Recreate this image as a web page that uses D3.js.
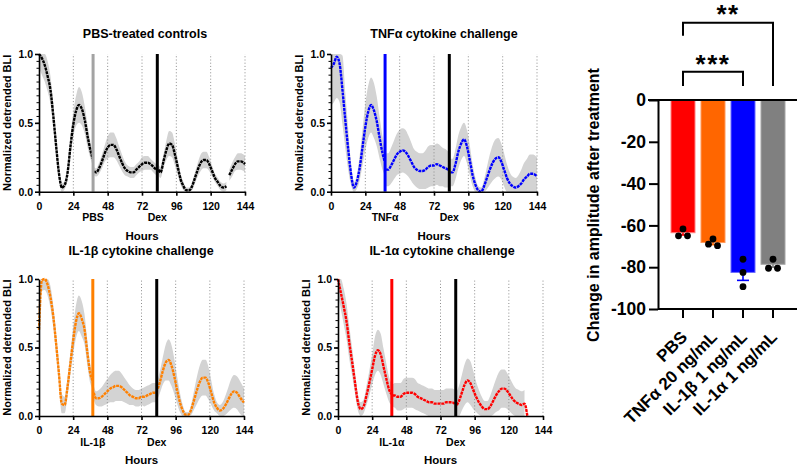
<!DOCTYPE html>
<html lang="en">
<head>
<meta charset="UTF-8">
<title>Cytokine challenge and amplitude change</title>
<script src="https://d3js.org/d3.v7.min.js"></script>
<style>
  body { margin: 0; background: #fff; }
  svg { font-family: "Liberation Sans", Arial, sans-serif; font-weight: bold; }
</style>
</head>
<body>
<svg width="800" height="467"></svg>
<script>
// ---- time series data (hours after start, normalized detrended BLI) ----
const hoursSeg1 = [0,2,4,6,8,10,12,14,16,18,20,22,24,26,28,30,32,34,36,37.5];
const hoursSeg2 = [38.5,40,42,44,46,48,50,52,54,56,58,60,62,64,66,68,70,72,74,76,78,80,82];
const hoursSeg3 = [83.5,85,87,89,91,93,95,97,99,101,103,105,107,109,111,113,115,117,119,121,123,125,127,129,131,133,135,137,139,141,143,144];
const hours = hoursSeg1.concat(hoursSeg2, hoursSeg3);

const pbsMean = [1.0,0.97,0.92,0.84,0.74,0.55,0.33,0.13,0.03,0.05,0.14,0.33,0.49,0.59,0.63,0.6,0.52,0.4,0.3,0.24,
  0.15,0.14,0.17,0.22,0.28,0.32,0.34,0.34,0.31,0.26,0.21,0.17,0.15,0.14,0.14,0.16,0.18,0.2,0.21,0.21,0.2,0.18,0.16,
  0.16,0.14,0.22,0.3,0.35,0.34,0.27,0.18,0.09,0.04,0.01,0.01,0.04,0.1,0.16,0.21,0.23,0.23,0.2,0.15,0.1,0.07,0.04,0.03,0.04,0.12,0.16,0.2,0.22,0.22,0.21,0.2];
const pbsSd = [0.1,0.12,0.12,0.11,0.1,0.09,0.07,0.05,0.03,0.03,0.05,0.07,0.09,0.11,0.13,0.12,0.1,0.08,0.06,0.05,
  0.03,0.03,0.04,0.05,0.06,0.08,0.09,0.09,0.08,0.07,0.06,0.05,0.04,0.04,0.04,0.04,0.04,0.05,0.05,0.05,0.04,0.04,0.04,
  0.04,0.04,0.05,0.07,0.09,0.09,0.08,0.06,0.04,0.03,0.02,0.02,0.03,0.04,0.05,0.06,0.06,0.06,0.05,0.04,0.03,0.03,0.03,0.03,0.03,0.04,0.05,0.05,0.06,0.06,0.06,0.06];

const tnfMean = [0.9,0.93,0.98,0.93,0.74,0.52,0.31,0.13,0.03,0.07,0.17,0.32,0.47,0.58,0.63,0.59,0.51,0.39,0.28,0.22,
  0.16,0.16,0.19,0.23,0.27,0.29,0.3,0.29,0.26,0.22,0.18,0.16,0.15,0.15,0.16,0.18,0.19,0.19,0.2,0.19,0.18,0.17,0.16,
  0.14,0.14,0.2,0.29,0.35,0.38,0.33,0.23,0.12,0.05,0.01,0.0,0.04,0.1,0.16,0.21,0.24,0.25,0.22,0.16,0.1,0.06,0.04,0.03,0.04,0.06,0.09,0.11,0.13,0.13,0.12,0.11];
const tnfSd = [0.28,0.28,0.3,0.28,0.25,0.2,0.15,0.08,0.04,0.05,0.09,0.13,0.17,0.19,0.2,0.2,0.18,0.15,0.12,0.1,
  0.12,0.12,0.13,0.14,0.15,0.16,0.16,0.16,0.15,0.14,0.13,0.13,0.13,0.13,0.14,0.15,0.15,0.15,0.15,0.15,0.14,0.14,0.13,
  0.1,0.1,0.11,0.12,0.12,0.12,0.12,0.11,0.08,0.05,0.03,0.03,0.05,0.08,0.11,0.13,0.14,0.14,0.13,0.12,0.1,0.08,0.07,0.07,0.08,0.1,0.12,0.13,0.14,0.14,0.14,0.14];

const il1bMean = [0.63,0.99,1.0,0.96,0.87,0.73,0.53,0.31,0.09,0.08,0.21,0.38,0.55,0.69,0.75,0.71,0.63,0.46,0.31,0.26,
  0.17,0.13,0.13,0.14,0.16,0.18,0.2,0.21,0.22,0.22,0.21,0.19,0.17,0.15,0.14,0.13,0.13,0.14,0.14,0.15,0.16,0.17,0.17,
  0.2,0.25,0.33,0.39,0.41,0.37,0.29,0.19,0.1,0.04,0.01,0.01,0.05,0.12,0.19,0.25,0.28,0.28,0.24,0.17,0.1,0.06,0.04,0.05,0.08,0.12,0.16,0.18,0.17,0.14,0.11,0.1];
const il1bSd = [0.1,0.08,0.08,0.08,0.08,0.08,0.08,0.08,0.07,0.06,0.07,0.08,0.1,0.12,0.13,0.13,0.11,0.09,0.07,0.06,
  0.05,0.05,0.06,0.07,0.08,0.09,0.1,0.11,0.11,0.11,0.1,0.09,0.08,0.07,0.06,0.06,0.06,0.06,0.07,0.07,0.07,0.07,0.07,
  0.07,0.08,0.1,0.13,0.15,0.15,0.13,0.1,0.07,0.04,0.02,0.02,0.04,0.07,0.1,0.12,0.13,0.13,0.12,0.09,0.06,0.04,0.04,0.05,0.07,0.09,0.11,0.12,0.12,0.12,0.11,0.1];

const il1aMean = [1.0,0.9,0.8,0.69,0.53,0.39,0.24,0.1,0.05,0.07,0.15,0.24,0.34,0.44,0.48,0.45,0.36,0.27,0.19,0.16,
  0.15,0.15,0.14,0.14,0.16,0.17,0.17,0.17,0.16,0.14,0.13,0.12,0.11,0.1,0.1,0.09,0.09,0.09,0.09,0.1,0.1,0.1,0.09,
  0.08,0.11,0.17,0.23,0.26,0.24,0.19,0.14,0.1,0.07,0.05,0.05,0.07,0.11,0.15,0.18,0.2,0.2,0.18,0.15,0.12,0.1,0.09,0.08,0.09,0.0,null,null,null,null,null,null];
const il1aSd = [0.1,0.12,0.13,0.13,0.12,0.1,0.08,0.06,0.05,0.05,0.07,0.09,0.11,0.14,0.15,0.15,0.13,0.11,0.09,0.08,
  0.08,0.09,0.1,0.1,0.11,0.11,0.11,0.11,0.11,0.1,0.1,0.1,0.1,0.1,0.1,0.1,0.1,0.1,0.1,0.1,0.1,0.1,0.1,
  0.1,0.11,0.13,0.15,0.16,0.16,0.14,0.11,0.09,0.07,0.06,0.06,0.08,0.1,0.12,0.14,0.14,0.14,0.13,0.12,0.11,0.1,0.1,0.1,0.1,null,null,null,null,null,null,null];

const treatHour = 37.8;   // cytokine / PBS added
const dexHour = 82.7;     // dexamethasone resync
const pbsGapHour = 132;   // recording gap in PBS trace
const hourTicks = [0,24,48,72,96,120,144];
const bliTicks = [0,0.5,1.0];

const panelTitles = ["PBS-treated controls","TNFα cytokine challenge","IL-1β cytokine challenge","IL-1α cytokine challenge"];
const treatLabels = ["PBS","TNFα","IL-1β","IL-1α"];

// ---- bar chart data ----
const barGroups = ["PBS","TNFα 20 ng/mL","IL-1β 1 ng/mL","IL-1α 1 ng/mL"];
const barMeans = [-63.5,-68.2,-82.5,-78.6];
const barSem = [1.1,1.0,3.8,1.4];
const barDots = [[-65,-61.7,-65],[-66.5,-69.7,-69],[-76.2,-82.5,-89.3],[-80.5,-76.2,-80.5]];
const barTicks = [0,-20,-40,-60,-80,-100];
const sigStars = ["***","**"];

const svg = d3.select("svg");

const panels = [
  {mean: pbsMean, sd: pbsSd, color: "#000000", treatColor: "#a3a3a3", breaks: [treatHour, dexHour, pbsGapHour],
   l: 39, r: 245, t: 54, b: 191.7, titleX: 145, titleY: 38},
  {mean: tnfMean, sd: tnfSd, color: "#0000ff", treatColor: "#0000ff", breaks: [treatHour, dexHour],
   l: 331, r: 537, t: 54, b: 191.7, titleX: 444, titleY: 38},
  {mean: il1bMean, sd: il1bSd, color: "#ff8000", treatColor: "#ff8000", breaks: [treatHour, dexHour],
   l: 39, r: 244, t: 279, b: 416, titleX: 141, titleY: 255},
  {mean: il1aMean, sd: il1aSd, color: "#ff0000", treatColor: "#ff0000", breaks: [treatHour, dexHour],
   l: 338, r: 543, t: 279, b: 416, titleX: 442, titleY: 255}
];

panels.forEach(function(p, i) {
  const x = d3.scaleLinear().domain([0, 144]).range([p.l, p.r]);
  const y = d3.scaleLinear().domain([0, 1]).range([p.b, p.t]).clamp(true);
  const g = svg.append("g");

  const pts = hours.map(function(h, k) {
    return {h: h, m: p.mean[k], s: p.sd[k], seg: p.breaks.filter(function(b) { return h > b; }).length};
  }).filter(function(d) { return d.m != null; });
  const segs = d3.groups(pts, function(d) { return d.seg; });

  // SD band
  const band = d3.area()
      .defined(function(d) { return d.s != null; })
      .x(function(d) { return x(d.h); })
      .y0(function(d) { return y(d.m - d.s); })
      .y1(function(d) { return y(d.m + d.s); })
      .curve(d3.curveMonotoneX);
  segs.forEach(function(s) {
    g.append("path").attr("d", band(s[1])).attr("fill", "#d3d3d3");
  });

  // dotted day lines
  g.selectAll(".grid")
    .data(hourTicks.slice(1))
    .enter().append("line")
      .attr("x1", function(d) { return x(d); }).attr("x2", function(d) { return x(d); })
      .attr("y1", y(0)).attr("y2", y(1))
      .attr("stroke", "#8c8c8c").attr("stroke-width", 1).attr("stroke-dasharray", "1,2.2");

  // mean trace
  const line = d3.line()
      .x(function(d) { return x(d.h); })
      .y(function(d) { return y(d.m); })
      .curve(d3.curveMonotoneX);
  segs.forEach(function(s) {
    g.append("path").attr("d", line(s[1]))
      .attr("fill", "none").attr("stroke", p.color)
      .attr("stroke-width", 2.4).attr("stroke-dasharray", "3,0.8");
  });

  // treatment markers
  g.append("line").attr("x1", x(treatHour)).attr("x2", x(treatHour))
    .attr("y1", y(0)).attr("y2", y(1)).attr("stroke", p.treatColor).attr("stroke-width", 3);
  g.append("line").attr("x1", x(dexHour)).attr("x2", x(dexHour))
    .attr("y1", y(0)).attr("y2", y(1)).attr("stroke", "#000").attr("stroke-width", 3);

  // axes
  const xAxis = g.append("g")
      .attr("transform", "translate(0," + p.b + ")")
      .call(d3.axisBottom(x).tickValues(hourTicks).tickSize(4).tickPadding(6.5).tickSizeOuter(0));
  const yMinor = g.append("g")
      .attr("transform", "translate(" + p.l + ",0)")
      .call(d3.axisLeft(y).tickValues(d3.range(0.05, 1, 0.05)).tickSize(2.5).tickFormat("").tickSizeOuter(0));
  yMinor.select(".domain").remove();
  const yAxis = g.append("g")
      .attr("transform", "translate(" + p.l + ",0)")
      .call(d3.axisLeft(y).tickValues(bliTicks).tickFormat(d3.format(".1f")).tickSize(4).tickPadding(2).tickSizeOuter(0));
  [xAxis, yAxis, yMinor].forEach(function(a) {
    a.attr("font-family", null).attr("font-size", 10.5);
    a.selectAll("path, line").attr("stroke", "#000").attr("stroke-width", 1.6);
    a.selectAll("text").attr("fill", "#000");
  });
  yMinor.selectAll("line").attr("stroke-width", 1);

  // labels
  g.append("text").attr("x", p.titleX).attr("y", p.titleY)
    .attr("text-anchor", "middle").attr("font-size", 12.5).text(panelTitles[i]);
  g.append("text")
    .attr("transform", "translate(" + (p.l - 28.5) + "," + ((p.t + p.b) / 2) + ") rotate(-90)")
    .attr("text-anchor", "middle").attr("font-size", 11).text("Normalized detrended BLI");
  g.append("text").attr("x", x(treatHour)).attr("y", p.b + 29.5)
    .attr("text-anchor", "middle").attr("font-size", 10.5).text(treatLabels[i]);
  g.append("text").attr("x", x(dexHour)).attr("y", p.b + 29.5)
    .attr("text-anchor", "middle").attr("font-size", 10.5).text("Dex");
  g.append("text").attr("x", (p.l + p.r) / 2).attr("y", p.b + 48)
    .attr("text-anchor", "middle").attr("font-size", 11.5).text("Hours");
});

// ---- bar chart ----
const barColors = ["#ff0000", "#ff6600", "#0000ff", "#808080"];
const barEdge = ["#ff8080", "#ff9a5c", "#6b6bff", "#a6a6a6"];
const bx = d3.scaleBand().domain(barGroups).range([668, 788]).paddingInner(0.2).paddingOuter(0.1);
const by = d3.scaleLinear().domain([-100, 0]).range([309, 100]);
const bg = svg.append("g");

bg.selectAll(".bar")
  .data(barMeans)
  .enter().append("rect")
    .attr("x", function(d, i) { return bx(barGroups[i]); })
    .attr("y", by(0))
    .attr("width", bx.bandwidth())
    .attr("height", function(d) { return by(d) - by(0); })
    .attr("fill", function(d, i) { return barColors[i]; })
    .attr("stroke", function(d, i) { return barEdge[i]; })
    .attr("stroke-width", 1);

// SEM error bars (away from zero)
barMeans.forEach(function(m, i) {
  const cx = bx(barGroups[i]) + bx.bandwidth() / 2;
  bg.append("line").attr("x1", cx).attr("x2", cx).attr("y1", by(m)).attr("y2", by(m - barSem[i]))
    .attr("stroke", barColors[i]).attr("stroke-width", 1.6);
  bg.append("line").attr("x1", cx - 6).attr("x2", cx + 6).attr("y1", by(m - barSem[i])).attr("y2", by(m - barSem[i]))
    .attr("stroke", barColors[i]).attr("stroke-width", 1.6);
});

// replicate dots, rows centred like a simple beeswarm
barDots.forEach(function(vals, i) {
  const cx = bx(barGroups[i]) + bx.bandwidth() / 2;
  const sorted = vals.map(function(v) { return {v: v, py: by(v)}; }).sort(function(a, b) { return a.py - b.py; });
  const rows = [];
  sorted.forEach(function(d) {
    const last = rows[rows.length - 1];
    if (last && Math.abs(last[0].py - d.py) < 3) last.push(d); else rows.push([d]);
  });
  rows.forEach(function(row) {
    row.forEach(function(d, k) {
      bg.append("circle").attr("cx", cx + (k - (row.length - 1) / 2) * 9).attr("cy", d.py)
        .attr("r", 3.4).attr("fill", "#000");
    });
  });
});

// zero line and axes
bg.append("line").attr("x1", 648).attr("x2", 797).attr("y1", by(0)).attr("y2", by(0))
  .attr("stroke", "#000").attr("stroke-width", 2);
const byAxis = bg.append("g").attr("transform", "translate(658,0)")
  .call(d3.axisLeft(by).tickValues(barTicks).tickFormat(function(d) { return String(d); })
    .tickSize(9).tickPadding(3).tickSizeOuter(0));
const bxAxis = bg.append("g").attr("transform", "translate(0," + by(-100) + ")")
  .call(d3.axisBottom(bx).tickSize(9).tickSizeOuter(0).tickFormat(""));
bxAxis.select(".domain").attr("d", "M658,0H797");
[byAxis, bxAxis].forEach(function(a) {
  a.attr("font-family", null).attr("font-size", 17.5);
  a.selectAll("path, line").attr("stroke", "#000").attr("stroke-width", 2);
  a.selectAll("text").attr("fill", "#000");
});

barGroups.forEach(function(name, i) {
  const cx = bx(name) + bx.bandwidth() / 2;
  bg.append("text")
    .attr("transform", "translate(" + (cx + 1) + ",334) rotate(-45)")
    .attr("text-anchor", "end").attr("dy", "0.35em").attr("font-size", 17).text(name);
});

bg.append("text")
  .attr("transform", "translate(599,205) rotate(-90)")
  .attr("text-anchor", "middle").attr("font-size", 16).text("Change in amplitude after treatment");

// significance brackets
const cPbs = bx(barGroups[0]) + bx.bandwidth() / 2;
const cB = bx(barGroups[2]) + bx.bandwidth() / 2;
const cA = bx(barGroups[3]) + bx.bandwidth() / 2;
bg.append("path").attr("d", "M" + cPbs + ",86V71.7H" + cB + "V86")
  .attr("fill", "none").attr("stroke", "#000").attr("stroke-width", 2);
bg.append("path").attr("d", "M" + cPbs + ",35.7V22.7H" + cA + "V86")
  .attr("fill", "none").attr("stroke", "#000").attr("stroke-width", 2);
bg.append("text").attr("x", (cPbs + cB) / 2).attr("y", 73)
  .attr("text-anchor", "middle").attr("font-size", 26).attr("letter-spacing", 1.5).text(sigStars[0]);
bg.append("text").attr("x", (cPbs + cA) / 2).attr("y", 23)
  .attr("text-anchor", "middle").attr("font-size", 26).attr("letter-spacing", 1.5).text(sigStars[1]);
</script>
</body>
</html>
